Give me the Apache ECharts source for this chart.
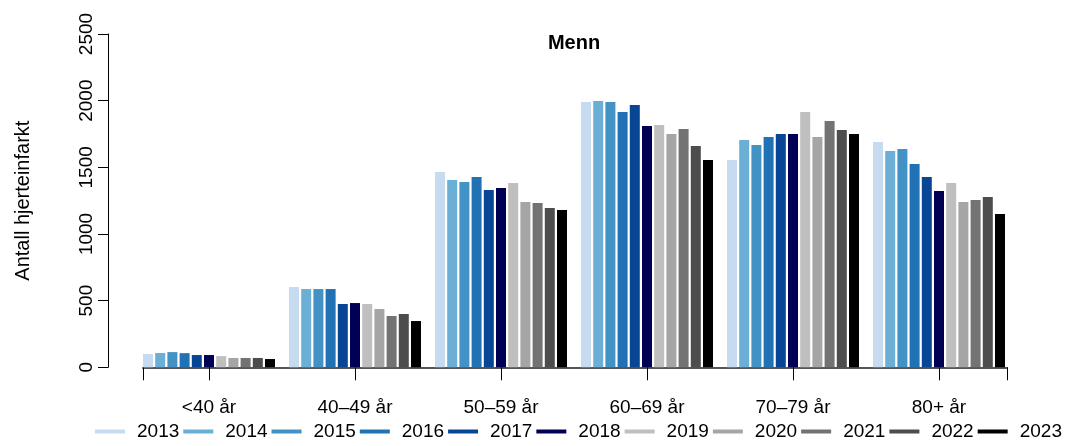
<!DOCTYPE html>
<html>
<head>
<meta charset="utf-8">
<script src="https://cdn.jsdelivr.net/npm/echarts@6/dist/echarts.min.js"></script>
<style>
  html, body { margin: 0; padding: 0; background: #fff; }
  #chart { width: 1073px; height: 446px; }
</style>
</head>
<body>
<div id="chart"></div>
<script>
const categories = ['<40 år', '40–49 år', '50–59 år', '60–69 år', '70–79 år', '80+ år'];
const years = ['2013', '2014', '2015', '2016', '2017', '2018', '2019', '2020', '2021', '2022', '2023'];
const v2013 = [100, 602, 1465, 1990, 1555, 1690];
const v2014 = [107, 587, 1405, 1997, 1705, 1622];
const v2015 = [114, 587, 1390, 1990, 1667, 1637];
const v2016 = [106, 587, 1427, 1915, 1727, 1525];
const v2017 = [92, 475, 1330, 1967, 1750, 1427];
const v2018 = [92, 482, 1345, 1810, 1750, 1322];
const v2019 = [84, 475, 1382, 1817, 1915, 1382];
const v2020 = [70, 437, 1240, 1750, 1727, 1240];
const v2021 = [70, 385, 1232, 1787, 1847, 1255];
const v2022 = [70, 400, 1195, 1660, 1780, 1277];
const v2023 = [62, 347, 1180, 1555, 1750, 1150];
const yTicks = [0, 500, 1000, 1500, 2000, 2500];
const title = 'Menn';
const yTitle = 'Antall hjerteinfarkt';

const seriesValues = [v2013, v2014, v2015, v2016, v2017, v2018, v2019, v2020, v2021, v2022, v2023];
const colors = ['#c6dbef', '#6baed6', '#4292c6', '#2171b5', '#084594', '#000055',
                '#bfbfbf', '#a5a5a5', '#737373', '#4d4d4d', '#000000'];
const FONT = "'Liberation Sans', Arial, Helvetica, sans-serif";

const chart = echarts.init(document.getElementById('chart'), null, { renderer: 'canvas' });

const series = years.map((y, i) => ({
  name: y,
  type: 'bar',
  xAxisIndex: 0,
  yAxisIndex: 0,
  data: seriesValues[i],
  barWidth: 10,
  barGap: '22%',
  itemStyle: { color: colors[i] },
  emphasis: { disabled: true },
  silent: true
}));

const option = {
  animation: false,
  backgroundColor: '#ffffff',
  color: colors,
  textStyle: { fontFamily: FONT },
  title: {
    text: title,
    left: 569,
    textAlign: 'center',
    top: 28,
    textStyle: { fontFamily: FONT, fontWeight: 'bold', fontSize: 20, color: '#000' }
  },
  legend: {
    data: years,
    left: 95,
    top: 422,
    padding: 0,
    itemWidth: 30,
    itemHeight: 4,
    itemGap: 4,
    icon: 'rect',
    selectedMode: false,
    textStyle: { fontFamily: FONT, fontSize: 19, color: '#000', padding: [0, 0, 0, 7] }
  },
  grid: [
    { left: 136, right: 61, top: 34, bottom: 78.7, containLabel: false },
    { left: 143, right: 66, top: 34, bottom: 78.7, containLabel: false }
  ],
  xAxis: [
    {
      type: 'category',
      gridIndex: 0,
      data: categories,
      axisLine: { show: false },
      axisTick: { show: true, alignWithLabel: true, length: 13, lineStyle: { color: '#000', width: 1 } },
      axisLabel: { fontFamily: FONT, fontSize: 19, color: '#000', margin: 31 },
      splitLine: { show: false }
    },
    {
      type: 'value',
      gridIndex: 1,
      min: 0, max: 1, interval: 1,
      axisLine: { show: true, lineStyle: { color: '#555', width: 2 } },
      axisTick: { show: true, length: 13, lineStyle: { color: '#000', width: 1 } },
      axisLabel: { show: false },
      splitLine: { show: false }
    }
  ],
  yAxis: [
    {
      type: 'value',
      gridIndex: 0,
      min: yTicks[0],
      max: yTicks[yTicks.length - 1],
      interval: 500,
      offset: 28,
      name: yTitle,
      nameLocation: 'middle',
      nameRotate: 90,
      nameGap: 75,
      nameTextStyle: { fontFamily: FONT, fontSize: 20, color: '#000' },
      axisLine: { show: true, lineStyle: { color: '#000', width: 1 } },
      axisTick: { show: true, length: 10, lineStyle: { color: '#000', width: 1 } },
      axisLabel: {
        fontFamily: FONT, fontSize: 19, color: '#000', rotate: 90, margin: 12,
        formatter: (v) => String(v)
      },
      splitLine: { show: false }
    },
    {
      type: 'value',
      gridIndex: 1,
      show: false,
      min: 0, max: 1
    }
  ],
  series: series
};

chart.setOption(option);
</script>
</body>
</html>
